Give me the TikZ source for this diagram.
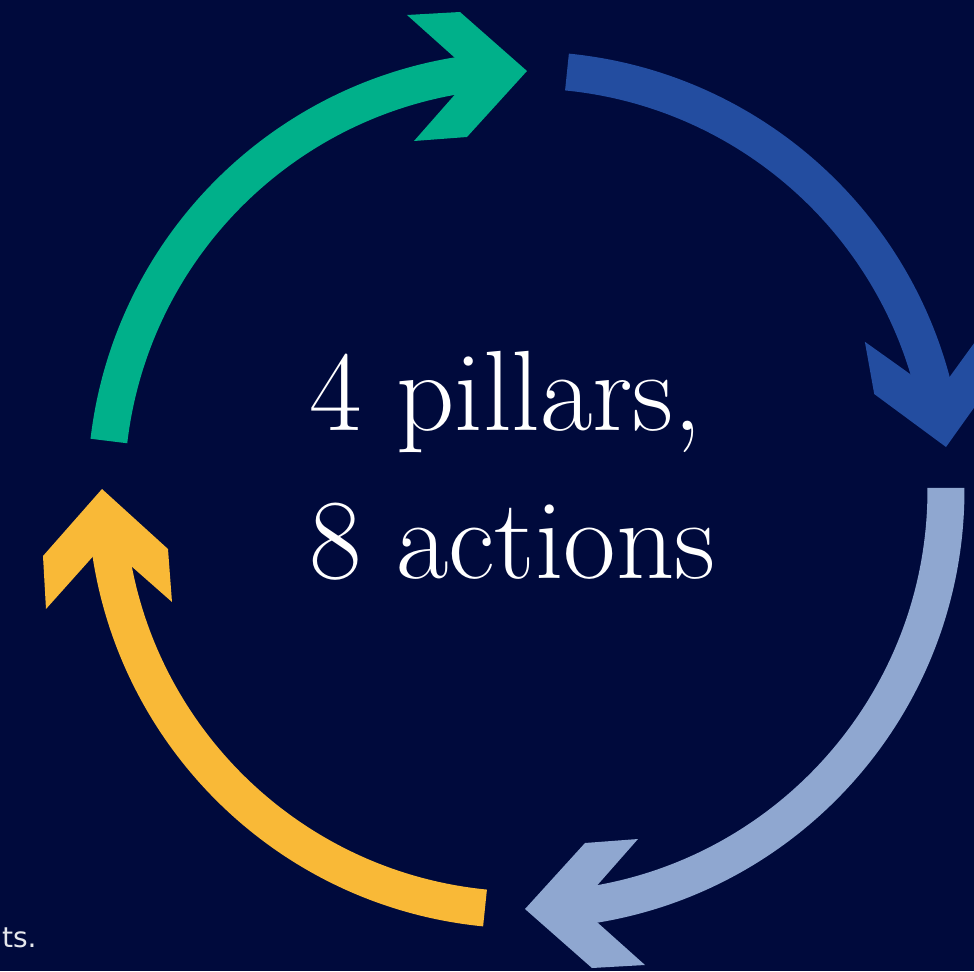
\documentclass[tikz,border=0pt]{standalone}
\usepackage{fontspec}
\newfontfamily\notefont{DejaVu Sans}
\usepackage{tikz}
\definecolor{navybg}{RGB}{0,10,60}
\definecolor{pillargreen}{RGB}{0,176,138}
\definecolor{pillarblue}{RGB}{35,77,160}
\definecolor{pillarsky}{RGB}{143,167,208}
\definecolor{pillaryellow}{RGB}{249,185,55}
\tikzset{
  shaft/.style={line width=0.74cm},
  chevron/.pic={\fill (0,0)--(-67,59)--(-120,56)--(-54,-3)--(-113,-70)--(-60,-66)--cycle;},
  bigtext/.style={anchor=base west, inner sep=0pt, text=white, font=\fontsize{65}{75}\selectfont},
}

\begin{document}
\begin{tikzpicture}[x=0.02cm, y=0.02cm]
%%%%% Background %%%%%
\useasboundingbox (-526,-481) rectangle (448,490);
\fill[navybg] (-526,-481) rectangle (448,490);
%%%%% Tips %%%%%
\coordinate (greenTip) at (1,419);
\coordinate (blueTip) at (420,43);
\coordinate (skyTip) at (-1,-419);
\coordinate (yellowTip) at (-424,1);
%%%%% Arrows %%%%%
\foreach \col/\from/\to/\tip/\rot in {pillargreen/173.3/94.1/greenTip/0, pillarblue/84.4/10/blueTip/-84.15, pillarsky/0.3/-85.9/skyTip/180, pillaryellow/-95.6/-175.9/yellowTip/90}{
\draw[shaft, color=\col] (\from:420) arc[start angle=\from, end angle=\to, radius=420];
\pic[\col, rotate=\rot] at (\tip) {chevron};
}
%%%%% Text %%%%%
\node[bigtext] (pillars) at (-217,60) {4 pillars,};
\node[bigtext] (actions) at (-217,-88) {8 actions};
\node[anchor=base east, inner sep=0pt, text=white!90!navybg, font=\notefont\fontsize{16}{20}\selectfont] (note) at (-489,-457) {ts.};
\end{tikzpicture}
\end{document}
